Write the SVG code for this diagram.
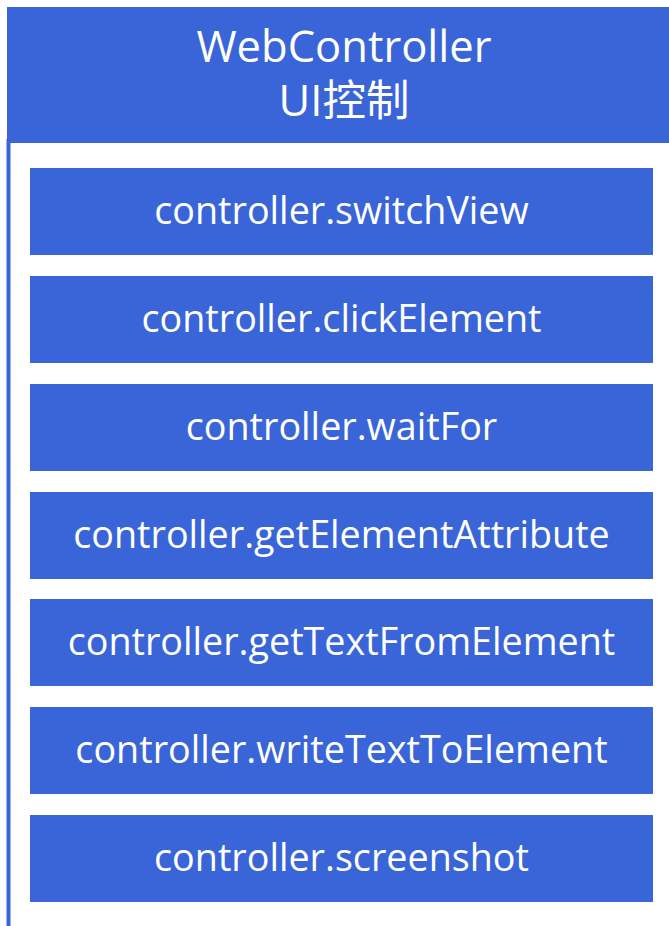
<svg xmlns="http://www.w3.org/2000/svg" width="669" height="926" viewBox="0 0 669 926">
  <style>
    .box { fill: #3965D8; }
    .lbl { font-family: "Open Sans", "Noto Sans", "Noto Sans CJK SC", sans-serif; font-size: 37.7px; fill: #ffffff; text-anchor: middle; }
    .ttl { font-family: "Open Sans", "Noto Sans", "Noto Sans CJK SC", sans-serif; font-size: 43.5px; fill: #ffffff; text-anchor: middle; }
  </style>
  <rect width="669" height="926" fill="#ffffff"/>
  <g id="connectors">
    <line x1="8.5" y1="139" x2="8.5" y2="926" stroke="#3965D8" stroke-width="4"/>
  </g>
  <g id="header">
    <rect class="box" x="7" y="7" width="674" height="136"/>
    <text class="ttl" x="344" y="62">WebController</text>
    <text class="ttl" x="344" y="116">UI<tspan font-family="'Noto Sans CJK SC', sans-serif">控制</tspan></text>
  </g>
  <g id="switchView">
    <rect class="box" x="30" y="168" width="623" height="87"/>
    <text class="lbl" x="341.5" y="224">controller.switchView</text>
  </g>
  <g id="clickElement">
    <rect class="box" x="30" y="276" width="623" height="87"/>
    <text class="lbl" x="341.5" y="332">controller.clickElement</text>
  </g>
  <g id="waitFor">
    <rect class="box" x="30" y="384" width="623" height="87"/>
    <text class="lbl" x="341.5" y="440">controller.waitFor</text>
  </g>
  <g id="getElementAttribute">
    <rect class="box" x="30" y="492" width="623" height="87"/>
    <text class="lbl" x="341.5" y="548">controller.getElementAttribute</text>
  </g>
  <g id="getTextFromElement">
    <rect class="box" x="30" y="599" width="623" height="87"/>
    <text class="lbl" x="341.5" y="655">controller.getTextFromElement</text>
  </g>
  <g id="writeTextToElement">
    <rect class="box" x="30" y="707" width="623" height="87"/>
    <text class="lbl" x="341.5" y="763">controller.writeTextToElement</text>
  </g>
  <g id="screenshot">
    <rect class="box" x="30" y="815" width="623" height="87"/>
    <text class="lbl" x="341.5" y="871">controller.screenshot</text>
  </g>
</svg>
